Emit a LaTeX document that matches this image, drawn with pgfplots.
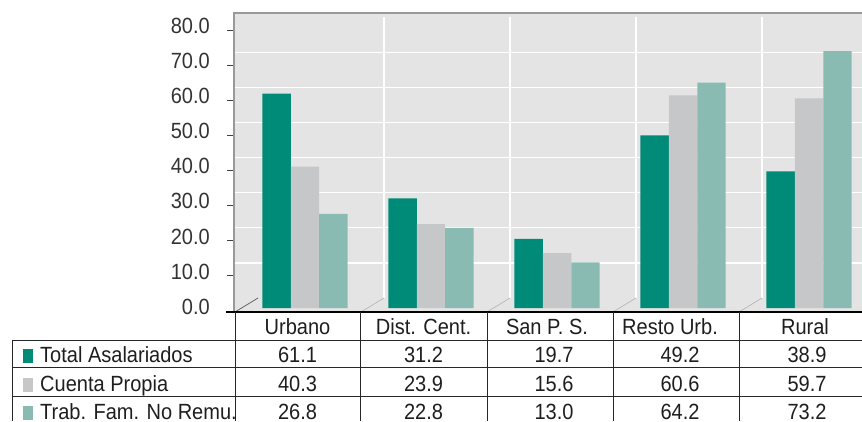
\documentclass[border=0pt]{standalone}
\usepackage{fontspec}
\setmainfont{Liberation Sans}[FakeStretch=0.91]
\usepackage{pgfplots}
\pgfplotsset{compat=1.18}
\usepackage{pgfplotstable}
\definecolor{cA}{HTML}{008A78}
\definecolor{cB}{HTML}{C6C7C9}
\definecolor{cC}{HTML}{89BBB3}
\definecolor{wall}{HTML}{E4E4E4}
\definecolor{txt}{HTML}{1E1E1E}
\definecolor{lbl}{HTML}{333333}
\pgfplotstableread{
x A B C
0 61.1 40.3 26.8
1 31.2 23.9 22.8
2 19.7 15.6 13.0
3 49.2 60.6 64.2
4 38.9 59.7 73.2
}\datatable
\begin{document}
\begin{tikzpicture}[x=1bp,y=1bp,font=\fontsize{22bp}{26bp}\selectfont]
\useasboundingbox (0,0) rectangle (862,421);
\clip (0,0) rectangle (862,421);
\begin{axis}[
  at={(234bp,109bp)}, anchor=south west,
  scale only axis, width=628bp, height=299bp,
  xmin=-0.5635, xmax=4.4206, ymin=-1.14, ymax=84.05,
  axis line style={draw=none},
  axis background/.style={fill=wall},
  xtick=\empty,
  ytick={-0.85,9.15,19.15,29.15,39.15,49.15,59.15,69.15,79.15},
  yticklabels={0.0,10.0,20.0,30.0,40.0,50.0,60.0,70.0,80.0},
  ytick pos=left, tick align=outside, major tick length=7bp,
  ytick style={draw=black!75, line width=0.9bp},
  yticklabel style={font=\fontsize{22bp}{26bp}\selectfont, text=lbl, anchor=base east, inner sep=0pt, yshift=-3.3bp, xshift=-17bp},
  extra y ticks={12.85,22.85,32.85,42.85,52.85,62.85,72.85},
  extra y tick labels={},
  extra y tick style={ymajorgrids=true, major tick length=0pt, major grid style={draw=white, line width=1.3bp}},
  ybar=0pt, bar width=0.226,
]
\draw[white, line width=1.3bp] (axis cs:0.627,2.85) -- (axis cs:0.627,83);
\draw[white, line width=1.3bp] (axis cs:1.627,2.85) -- (axis cs:1.627,83);
\draw[white, line width=1.3bp] (axis cs:2.627,2.85) -- (axis cs:2.627,83);
\draw[white, line width=1.3bp] (axis cs:3.627,2.85) -- (axis cs:3.627,83);
\draw[black!60, line width=0.8bp] (axis cs:-0.5556,-1.14) -- (axis cs:-0.373,2.85);
\draw[black!30, line width=0.6bp] (axis cs:0.4444,-1.14) -- (axis cs:0.627,2.85);
\draw[black!30, line width=0.6bp] (axis cs:1.4444,-1.14) -- (axis cs:1.627,2.85);
\draw[black!30, line width=0.6bp] (axis cs:2.4444,-1.14) -- (axis cs:2.627,2.85);
\draw[black!30, line width=0.6bp] (axis cs:3.4444,-1.14) -- (axis cs:3.627,2.85);
\addplot[fill=cA, draw=none] table[x=x, y=A] {\datatable};
\addplot[fill=cB, draw=none] table[x=x, y=B] {\datatable};
\addplot[fill=cC, draw=none] table[x=x, y=C] {\datatable};
\end{axis}
% frame
\draw[black!40, line width=1.2bp] (234,109) -- (234,408) -- (862,408);
% data table
\draw[black, line width=2bp] (226,109.5) -- (862,109.5);
\foreach \x in {235,360,487,613,739} \draw[black!85, line width=0.9bp] (\x,109) -- (\x,0);
\draw[black!85, line width=0.9bp] (12,81) -- (12,0);
\foreach \y in {81,54,25} \draw[black!85, line width=0.9bp] (12,\y) -- (862,\y);
\begin{scope}[every node/.style={text=txt, inner sep=0pt}]
\node[anchor=base] at (297.5,86.7) {Urbano};
\node[anchor=base] at (423.5,86.7) {Dist. Cent.};
\node[anchor=base] at (547,86.7) {San P. S.};
\node[anchor=base] at (670,86.7) {Resto Urb.};
\node[anchor=base] at (805,86.7) {Rural};
\fill[cA] (23,58) rectangle (33,72);
\fill[cB] (23,29) rectangle (33,43);
\fill[cC] (23,1) rectangle (33,15);
\node[anchor=base west] at (40,58.3) {Total Asalariados};
\node[anchor=base west] at (40,29.5) {Cuenta Propia};
\node[anchor=base west] at (40,1.5) {Trab. Fam. No Remu.};
\foreach \x/\a/\b/\c in {297.5/61.1/40.3/26.8, 423.5/31.2/23.9/22.8, 554/19.7/15.6/13.0, 680/49.2/60.6/64.2, 807/38.9/59.7/73.2} {
  \node[anchor=base] at (\x,58.3) {\a};
  \node[anchor=base] at (\x,29.5) {\b};
  \node[anchor=base] at (\x,1.5) {\c};
}
\end{scope}
\end{tikzpicture}
\end{document}
